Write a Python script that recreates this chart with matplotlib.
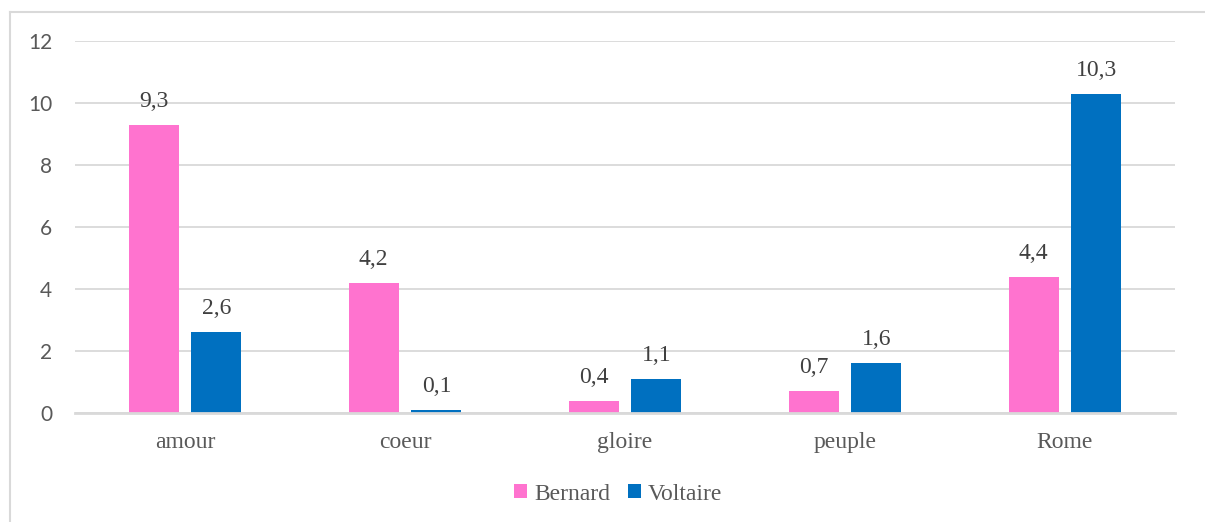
import matplotlib
matplotlib.use("Agg")
import matplotlib.pyplot as plt
from matplotlib.lines import Line2D
import numpy as np

categories = ["amour", "coeur", "gloire", "peuple", "Rome"]
bernard = [9.3, 4.2, 0.4, 0.7, 4.4]
voltaire = [2.6, 0.1, 1.1, 1.6, 10.3]
series_names = ["Bernard", "Voltaire"]
yticks = [0, 2, 4, 6, 8, 10, 12]

W, H = 1205, 522
fig = plt.figure(figsize=(W / 100, H / 100), dpi=100)
ax = fig.add_axes([75 / W, 1 - 413 / H, 1100 / W, 372 / H])

pink = "#FF73CF"
blue = "#0070C0"
grid = "#D9D9D9"
txt = "#595959"
serif = "Liberation Serif"

x = np.arange(len(categories))
bw = 0.227
off = 0.143
b1 = ax.bar(x - off, bernard, bw, color=pink, label=series_names[0], zorder=3)
b2 = ax.bar(x + off, voltaire, bw, color=blue, label=series_names[1], zorder=3)

for bars, vals in ((b1, bernard), (b2, voltaire)):
    for rect, v in zip(bars, vals):
        ax.annotate(f"{v:.1f}".replace(".", ","),
                    (rect.get_x() + rect.get_width() / 2, rect.get_height()),
                    xytext=(0, 13), textcoords="offset points",
                    ha="center", va="baseline", fontsize=17, family=serif,
                    color="#404040")

ax.set_xlim(-0.5, len(categories) - 0.5)
ax.set_ylim(0, 12)
ax.set_yticks(yticks)
ax.set_yticklabels([str(t) for t in yticks], family="Lato", fontsize=15, color=txt)
ax.set_xticks(x)
ax.set_xticklabels(categories, family=serif, fontsize=17, color=txt)
ax.tick_params(axis="y", length=0, pad=16.5)
ax.tick_params(axis="x", length=0, pad=14)
ax.yaxis.grid(True, color=grid, linewidth=1.3, zorder=0)
ax.set_axisbelow(True)
for s in ("top", "right", "left"):
    ax.spines[s].set_visible(False)
ax.spines["bottom"].set_color(grid)
ax.spines["bottom"].set_linewidth(2)
ax.spines["bottom"].set_zorder(4)

leg = ax.legend(loc="center", bbox_to_anchor=(0.494, (413 - 494) / 372), ncol=2,
                frameon=False, prop={"family": serif, "size": 17},
                handlelength=0.55, handleheight=0.55, handletextpad=0.3,
                columnspacing=0.75, borderaxespad=0)
for t in leg.get_texts():
    t.set_color(txt)

bx = 10 / W
by = 1 - 12 / H
fig.add_artist(Line2D([bx, 1], [by, by], transform=fig.transFigure, color=grid, linewidth=1.5))
fig.add_artist(Line2D([bx, bx], [0, by], transform=fig.transFigure, color=grid, linewidth=1.5))

fig.savefig("out.png", dpi=100)
